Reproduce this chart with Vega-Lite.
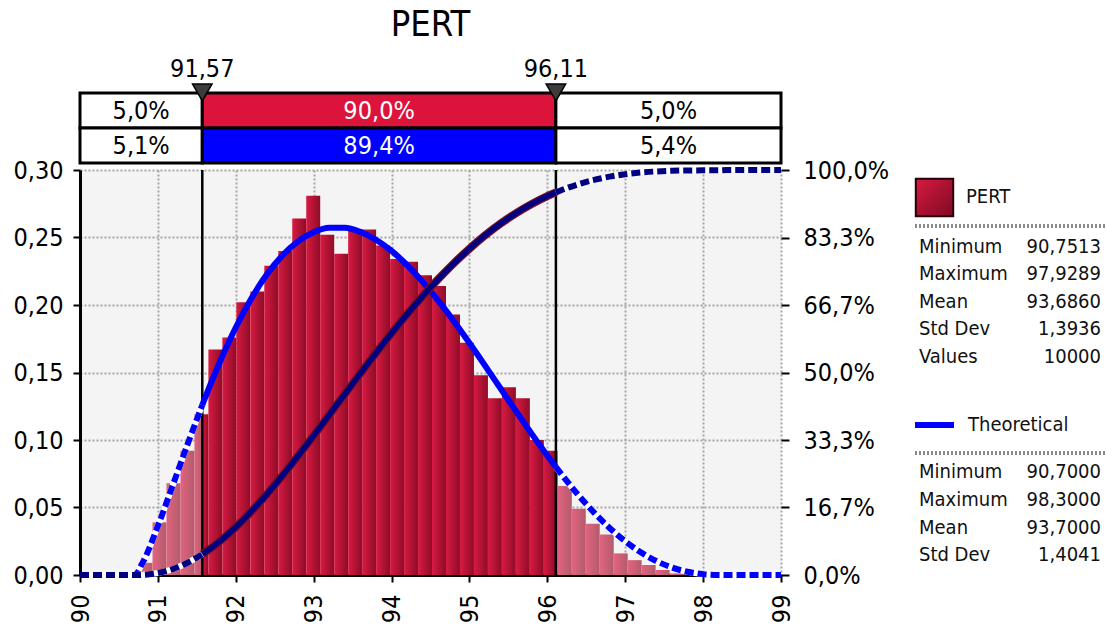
{
  "$schema": "https://vega.github.io/schema/vega-lite/v6.json",
  "background": "white",
  "padding": {"left": 12, "top": 6, "right": 2, "bottom": 2},
  "bounds": "flush",
  "spacing": 7,
  "datasets": {
    "bars": [
      {"x0": 90.7513, "x1": 90.9307, "d": 0.009, "z": "out"},
      {"x0": 90.9307, "x1": 91.1102, "d": 0.039, "z": "out"},
      {"x0": 91.1102, "x1": 91.2896, "d": 0.068, "z": "out"},
      {"x0": 91.2896, "x1": 91.4691, "d": 0.092, "z": "out"},
      {"x0": 91.4691, "x1": 91.57, "d": 0.119, "z": "out"},
      {"x0": 91.57, "x1": 91.6485, "d": 0.119, "z": "in"},
      {"x0": 91.6485, "x1": 91.8279, "d": 0.167, "z": "in"},
      {"x0": 91.8279, "x1": 92.0074, "d": 0.176, "z": "in"},
      {"x0": 92.0074, "x1": 92.1868, "d": 0.202, "z": "in"},
      {"x0": 92.1868, "x1": 92.3663, "d": 0.21, "z": "in"},
      {"x0": 92.3663, "x1": 92.5457, "d": 0.229, "z": "in"},
      {"x0": 92.5457, "x1": 92.7251, "d": 0.24, "z": "in"},
      {"x0": 92.7251, "x1": 92.9046, "d": 0.264, "z": "in"},
      {"x0": 92.9046, "x1": 93.084, "d": 0.281, "z": "in"},
      {"x0": 93.084, "x1": 93.2635, "d": 0.252, "z": "in"},
      {"x0": 93.2635, "x1": 93.4429, "d": 0.238, "z": "in"},
      {"x0": 93.4429, "x1": 93.6223, "d": 0.255, "z": "in"},
      {"x0": 93.6223, "x1": 93.8018, "d": 0.256, "z": "in"},
      {"x0": 93.8018, "x1": 93.9812, "d": 0.244, "z": "in"},
      {"x0": 93.9812, "x1": 94.1607, "d": 0.234, "z": "in"},
      {"x0": 94.1607, "x1": 94.3401, "d": 0.232, "z": "in"},
      {"x0": 94.3401, "x1": 94.5195, "d": 0.222, "z": "in"},
      {"x0": 94.5195, "x1": 94.699, "d": 0.214, "z": "in"},
      {"x0": 94.699, "x1": 94.8784, "d": 0.193, "z": "in"},
      {"x0": 94.8784, "x1": 95.0579, "d": 0.172, "z": "in"},
      {"x0": 95.0579, "x1": 95.2373, "d": 0.148, "z": "in"},
      {"x0": 95.2373, "x1": 95.4167, "d": 0.131, "z": "in"},
      {"x0": 95.4167, "x1": 95.5962, "d": 0.139, "z": "in"},
      {"x0": 95.5962, "x1": 95.7756, "d": 0.131, "z": "in"},
      {"x0": 95.7756, "x1": 95.9551, "d": 0.1, "z": "in"},
      {"x0": 95.9551, "x1": 96.11, "d": 0.092, "z": "in"},
      {"x0": 96.11, "x1": 96.1345, "d": 0.092, "z": "out"},
      {"x0": 96.1345, "x1": 96.3139, "d": 0.066, "z": "out"},
      {"x0": 96.3139, "x1": 96.4934, "d": 0.049, "z": "out"},
      {"x0": 96.4934, "x1": 96.6728, "d": 0.038, "z": "out"},
      {"x0": 96.6728, "x1": 96.8523, "d": 0.03, "z": "out"},
      {"x0": 96.8523, "x1": 97.0317, "d": 0.016, "z": "out"},
      {"x0": 97.0317, "x1": 97.2111, "d": 0.011, "z": "out"},
      {"x0": 97.2111, "x1": 97.3906, "d": 0.0074, "z": "out"},
      {"x0": 97.3906, "x1": 97.57, "d": 0.0037, "z": "out"},
      {"x0": 97.57, "x1": 97.7495, "d": 0.0012, "z": "out"},
      {"x0": 97.7495, "x1": 97.9289, "d": 0.0005, "z": "out"}
    ],
    "curve": [
      {"seg": "L", "x": 90, "pdf": 0, "cdf": 0},
      {"seg": "L", "x": 90.7, "pdf": 0, "cdf": 0},
      {"seg": "L", "x": 90.8, "pdf": 0.00867, "cdf": 0.00037},
      {"seg": "L", "x": 91.0, "pdf": 0.03632, "cdf": 0.00487},
      {"seg": "L", "x": 91.2, "pdf": 0.06791, "cdf": 0.01529},
      {"seg": "L", "x": 91.4, "pdf": 0.09987, "cdf": 0.03207},
      {"seg": "L", "x": 91.57, "pdf": 0.12593, "cdf": 0.05125},
      {"seg": "M", "x": 91.57, "pdf": 0.12593, "cdf": 0.05125},
      {"seg": "M", "x": 91.6, "pdf": 0.13036, "cdf": 0.05509},
      {"seg": "M", "x": 91.8, "pdf": 0.15838, "cdf": 0.08396},
      {"seg": "M", "x": 92.0, "pdf": 0.18335, "cdf": 0.11813},
      {"seg": "M", "x": 92.2, "pdf": 0.20484, "cdf": 0.15695},
      {"seg": "M", "x": 92.4, "pdf": 0.2227, "cdf": 0.1997},
      {"seg": "M", "x": 92.6, "pdf": 0.23678, "cdf": 0.24565},
      {"seg": "M", "x": 92.8, "pdf": 0.24718, "cdf": 0.29405},
      {"seg": "M", "x": 93.0, "pdf": 0.25394, "cdf": 0.34416},
      {"seg": "M", "x": 93.2, "pdf": 0.25723, "cdf": 0.39528},
      {"seg": "M", "x": 93.4, "pdf": 0.25725, "cdf": 0.44673},
      {"seg": "M", "x": 93.6, "pdf": 0.25419, "cdf": 0.49787},
      {"seg": "M", "x": 93.8, "pdf": 0.24837, "cdf": 0.54813},
      {"seg": "M", "x": 94.0, "pdf": 0.24005, "cdf": 0.59697},
      {"seg": "M", "x": 94.2, "pdf": 0.22952, "cdf": 0.64393},
      {"seg": "M", "x": 94.4, "pdf": 0.21712, "cdf": 0.68859},
      {"seg": "M", "x": 94.6, "pdf": 0.20316, "cdf": 0.73062},
      {"seg": "M", "x": 94.8, "pdf": 0.18794, "cdf": 0.76973},
      {"seg": "M", "x": 95.0, "pdf": 0.17182, "cdf": 0.80571},
      {"seg": "M", "x": 95.2, "pdf": 0.1551, "cdf": 0.8384},
      {"seg": "M", "x": 95.4, "pdf": 0.13812, "cdf": 0.86772},
      {"seg": "M", "x": 95.6, "pdf": 0.12117, "cdf": 0.89365},
      {"seg": "M", "x": 95.8, "pdf": 0.10453, "cdf": 0.91622},
      {"seg": "M", "x": 96.0, "pdf": 0.08847, "cdf": 0.93552},
      {"seg": "M", "x": 96.11, "pdf": 0.07998, "cdf": 0.94478},
      {"seg": "R", "x": 96.11, "pdf": 0.07998, "cdf": 0.94478},
      {"seg": "R", "x": 96.2, "pdf": 0.07327, "cdf": 0.95169},
      {"seg": "R", "x": 96.4, "pdf": 0.05913, "cdf": 0.96493},
      {"seg": "R", "x": 96.6, "pdf": 0.04625, "cdf": 0.97547},
      {"seg": "R", "x": 96.8, "pdf": 0.03483, "cdf": 0.98358},
      {"seg": "R", "x": 97.0, "pdf": 0.02498, "cdf": 0.98956},
      {"seg": "R", "x": 97.2, "pdf": 0.0168, "cdf": 0.99374},
      {"seg": "R", "x": 97.4, "pdf": 0.01033, "cdf": 0.99645},
      {"seg": "R", "x": 97.6, "pdf": 0.00555, "cdf": 0.99804},
      {"seg": "R", "x": 97.8, "pdf": 0.00238, "cdf": 0.99883},
      {"seg": "R", "x": 98.0, "pdf": 0.00064, "cdf": 0.99913},
      {"seg": "R", "x": 98.2, "pdf": 0.00004, "cdf": 0.9992},
      {"seg": "R", "x": 98.3, "pdf": 0, "cdf": 1},
      {"seg": "R", "x": 99, "pdf": 0, "cdf": 1}
    ],
    "bands": [
      {"row": "sim", "kind": "side", "x0": 90, "x1": 91.57, "xc": 90.785, "label": "5,0%"},
      {"row": "sim", "kind": "sim", "x0": 91.57, "x1": 96.11, "xc": 93.84, "label": "90,0%"},
      {"row": "sim", "kind": "side", "x0": 96.11, "x1": 99, "xc": 97.555, "label": "5,0%"},
      {"row": "theo", "kind": "side", "x0": 90, "x1": 91.57, "xc": 90.785, "label": "5,1%"},
      {"row": "theo", "kind": "theo", "x0": 91.57, "x1": 96.11, "xc": 93.84, "label": "89,4%"},
      {"row": "theo", "kind": "side", "x0": 96.11, "x1": 99, "xc": 97.555, "label": "5,4%"}
    ],
    "delims": [
      {"row": "lab", "xc": 91.57, "label": "91,57"},
      {"row": "lab", "xc": 96.11, "label": "96,11"}
    ],
    "stats": [
      {"kind": "head", "lab": "PERT", "r": -1.8},
      {"kind": "head", "lab": "Theoretical", "r": 6.47},
      {"kind": "sep", "r": -0.76},
      {"kind": "sep", "r": 7.49},
      {"kind": "stat", "lab": "Minimum", "val": "90,7513", "r": 0},
      {"kind": "stat", "lab": "Maximum", "val": "97,9289", "r": 1},
      {"kind": "stat", "lab": "Mean", "val": "93,6860", "r": 2},
      {"kind": "stat", "lab": "Std Dev", "val": "1,3936", "r": 3},
      {"kind": "stat", "lab": "Values", "val": "10000", "r": 4},
      {"kind": "stat", "lab": "Minimum", "val": "90,7000", "r": 8.18},
      {"kind": "stat", "lab": "Maximum", "val": "98,3000", "r": 9.2},
      {"kind": "stat", "lab": "Mean", "val": "93,7000", "r": 10.22},
      {"kind": "stat", "lab": "Std Dev", "val": "1,4041", "r": 11.2}
    ]
  },
  "vconcat": [
    {
      "width": 701,
      "height": 105,
      "title": {"text": "PERT", "fontSize": 36, "fontWeight": "normal", "font": "DejaVu Sans Condensed", "anchor": "middle", "frame": "group", "offset": 13, "color": "black"},
      "layer": [
        {
          "data": {"name": "bands"},
          "mark": {"type": "rect", "stroke": "black", "strokeWidth": 3},
          "encoding": {
            "x": {"field": "x0", "type": "quantitative", "scale": {"domain": [90, 99], "nice": false, "zero": false}, "axis": null},
            "x2": {"field": "x1"},
            "y": {"field": "row", "type": "nominal", "scale": {"domain": ["lab", "sim", "theo"], "paddingInner": 0, "paddingOuter": 0}, "axis": null},
            "color": {"field": "kind", "type": "nominal", "scale": {"domain": ["side", "sim", "theo"], "range": ["#ffffff", "#dc143c", "#0000ff"]}, "legend": null}
          }
        },
        {
          "data": {"name": "bands"},
          "mark": {"type": "text", "fontSize": 25, "font": "DejaVu Sans Condensed", "baseline": "middle", "align": "center"},
          "encoding": {
            "x": {"field": "xc", "type": "quantitative"},
            "y": {"field": "row", "type": "nominal"},
            "text": {"field": "label"},
            "color": {"condition": {"test": "datum.kind != 'side'", "value": "#ffffff"}, "value": "#000000"}
          }
        },
        {
          "data": {"name": "delims"},
          "mark": {"type": "text", "fontSize": 25, "font": "DejaVu Sans Condensed", "baseline": "middle", "align": "center", "dy": -7, "color": "black"},
          "encoding": {
            "x": {"field": "xc", "type": "quantitative"},
            "y": {"field": "row", "type": "nominal"},
            "text": {"field": "label"}
          }
        },
        {
          "data": {"name": "delims"},
          "mark": {"type": "point", "shape": "triangle-down", "size": 380, "filled": true, "fill": "#3c3c3c", "stroke": "black", "strokeWidth": 1.5, "opacity": 1, "yOffset": 17},
          "encoding": {
            "x": {"field": "xc", "type": "quantitative"},
            "y": {"field": "row", "type": "nominal"}
          }
        }
      ]
    },
    {
      "bounds": "flush",
      "spacing": 134,
      "hconcat": [
        {
          "width": 701,
          "height": 405,
          "view": {"fill": "#f4f4f4"},
          "layer": [
            {
              "encoding": {
                "y": {"type": "quantitative", "scale": {"domain": [0, 0.3], "nice": false},
                  "axis": {"orient": "left", "values": [0, 0.05, 0.1, 0.15, 0.2, 0.25, 0.3], "labelExpr": "replace(format(datum.value, '.2f'), '.', ',')", "grid": true, "tickSize": 7, "tickWidth": 2, "labelPadding": 10, "domainWidth": 3, "labelFlush": false, "labelOverlap": false, "title": null}}
              },
              "layer": [
                {
                  "data": {"name": "bars"},
                  "transform": [{"filter": "datum.z == 'in'"}],
                  "mark": {"type": "rect", "fill": {"gradient": "linear", "x1": 0, "y1": 0, "x2": 1, "y2": 0, "stops": [{"offset": 0, "color": "#d81a42"}, {"offset": 1, "color": "#8e0c27"}]}},
                  "encoding": {
                    "x": {"field": "x0", "type": "quantitative", "scale": {"domain": [90, 99], "nice": false, "zero": false},
                      "axis": {"values": [90, 91, 92, 93, 94, 95, 96, 97, 98, 99], "format": "d", "labelAngle": -90, "grid": true, "tickSize": 7, "tickWidth": 2, "labelPadding": 12, "domainWidth": 3, "labelFlush": false, "labelOverlap": false, "title": null}},
                    "x2": {"field": "x1"},
                    "y": {"field": "d"},
                    "y2": {"datum": 0}
                  }
                },
                {
                  "data": {"name": "bars"},
                  "transform": [{"filter": "datum.z == 'out'"}],
                  "mark": {"type": "rect", "fill": {"gradient": "linear", "x1": 0, "y1": 0, "x2": 1, "y2": 0, "stops": [{"offset": 0, "color": "#e2647f"}, {"offset": 1, "color": "#b25b6d"}]}},
                  "encoding": {
                    "x": {"field": "x0", "type": "quantitative",
                      "axis": {"values": [90, 91, 92, 93, 94, 95, 96, 97, 98, 99], "format": "d", "labelAngle": -90, "grid": true, "tickSize": 7, "tickWidth": 2, "labelPadding": 12, "domainWidth": 3, "labelFlush": false, "labelOverlap": false, "title": null}},
                    "x2": {"field": "x1"},
                    "y": {"field": "d"},
                    "y2": {"datum": 0}
                  }
                },
                {
                  "data": {"name": "delims"},
                  "mark": {"type": "rule", "color": "black", "strokeWidth": 2.5},
                  "encoding": {"x": {"field": "xc", "type": "quantitative",
                    "axis": {"values": [90, 91, 92, 93, 94, 95, 96, 97, 98, 99], "format": "d", "labelAngle": -90, "grid": true, "tickSize": 7, "tickWidth": 2, "labelPadding": 12, "domainWidth": 3, "labelFlush": false, "labelOverlap": false, "title": null}}}
                },
                {
                  "data": {"name": "curve"},
                  "encoding": {
                    "x": {"field": "x", "type": "quantitative",
                      "axis": {"values": [90, 91, 92, 93, 94, 95, 96, 97, 98, 99], "format": "d", "labelAngle": -90, "grid": true, "tickSize": 7, "tickWidth": 2, "labelPadding": 12, "domainWidth": 3, "labelFlush": false, "labelOverlap": false, "title": null}},
                    "y": {"field": "pdf"}
                  },
                  "layer": [
                    {
                      "transform": [{"filter": "datum.seg != 'M'"}],
                      "mark": {"type": "line", "color": "#ffffff", "strokeWidth": 6, "interpolate": "monotone"},
                      "encoding": {"detail": {"field": "seg"}}
                    },
                    {
                      "transform": [{"filter": "datum.seg != 'M'"}],
                      "mark": {"type": "line", "color": "#0000ff", "strokeWidth": 6, "strokeDash": [9, 4], "interpolate": "monotone"},
                      "encoding": {"detail": {"field": "seg"}}
                    },
                    {
                      "transform": [{"filter": "datum.seg == 'M'"}],
                      "mark": {"type": "line", "color": "#0000ff", "strokeWidth": 6, "interpolate": "monotone"}
                    }
                  ]
                }
              ]
            },
            {
              "data": {"name": "curve"},
              "encoding": {
                "x": {"field": "x", "type": "quantitative",
                  "axis": {"values": [90, 91, 92, 93, 94, 95, 96, 97, 98, 99], "format": "d", "labelAngle": -90, "grid": true, "tickSize": 7, "tickWidth": 2, "labelPadding": 12, "domainWidth": 3, "labelFlush": false, "labelOverlap": false, "title": null}},
                "y": {"field": "cdf", "type": "quantitative", "scale": {"domain": [0, 1], "nice": false},
                  "axis": {"orient": "right", "values": [0, 0.1666667, 0.3333333, 0.5, 0.6666667, 0.8333333, 1], "labelExpr": "replace(format(datum.value * 100, '.1f'), '.', ',') + '%'", "grid": false, "domain": false, "tickSize": 8, "tickWidth": 2, "labelPadding": 14, "labelFlush": false, "labelOverlap": false, "title": null}}
              },
              "layer": [
                {
                  "transform": [{"filter": "datum.seg == 'M'"}],
                  "mark": {"type": "line", "color": "#7b0f1f", "strokeWidth": 8, "interpolate": "monotone"}
                },
                {
                  "transform": [{"filter": "datum.seg == 'M'"}],
                  "mark": {"type": "line", "color": "#000080", "strokeWidth": 5.5, "interpolate": "monotone"}
                },
                {
                  "transform": [{"filter": "datum.seg != 'M'"}],
                  "mark": {"type": "line", "color": "#ffffff", "strokeWidth": 6, "interpolate": "monotone"},
                  "encoding": {"detail": {"field": "seg"}}
                },
                {
                  "transform": [{"filter": "datum.seg != 'M'"}],
                  "mark": {"type": "line", "color": "#000080", "strokeWidth": 6, "strokeDash": [9, 4], "interpolate": "monotone"},
                  "encoding": {"detail": {"field": "seg"}}
                }
              ]
            }
          ],
          "resolve": {"scale": {"y": "independent"}, "axis": {"y": "independent"}}
        },
        {
          "width": 190,
          "height": 405,
          "data": {"name": "stats"},
          "encoding": {
            "y": {"field": "r", "type": "quantitative", "scale": {"domain": [-2.8, 11.93], "reverse": true, "nice": false, "zero": false}, "axis": null}
          },
          "layer": [
            {
              "transform": [{"filter": "datum.kind == 'sep'"}],
              "mark": {"type": "rule", "color": "#8a8a8a", "strokeWidth": 4, "strokeDash": [2, 2]},
              "encoding": {"x": {"datum": 0, "type": "quantitative", "scale": {"domain": [0, 190], "nice": false, "zero": false}, "axis": null}, "x2": {"datum": 190}}
            },
            {
              "transform": [{"filter": "datum.lab == 'PERT'"}],
              "mark": {"type": "point", "shape": "square", "size": 1400, "filled": true, "opacity": 1, "stroke": "#2a0008", "strokeWidth": 2,
                "fill": {"gradient": "linear", "x1": 0, "y1": 0, "x2": 1, "y2": 1, "stops": [{"offset": 0, "color": "#d81a42"}, {"offset": 1, "color": "#7e0a22"}]}},
              "encoding": {"x": {"datum": 19.5, "type": "quantitative"}}
            },
            {
              "transform": [{"filter": "datum.lab == 'Theoretical'"}],
              "mark": {"type": "rule", "color": "#0000ff", "strokeWidth": 6},
              "encoding": {"x": {"datum": 0, "type": "quantitative"}, "x2": {"datum": 39}}
            },
            {
              "transform": [{"filter": "datum.lab == 'PERT'"}],
              "mark": {"type": "text", "align": "left", "baseline": "middle", "fontSize": 20, "font": "DejaVu Sans Condensed", "color": "#111111"},
              "encoding": {"x": {"datum": 51, "type": "quantitative"}, "text": {"field": "lab"}}
            },
            {
              "transform": [{"filter": "datum.lab == 'Theoretical'"}],
              "mark": {"type": "text", "align": "left", "baseline": "middle", "fontSize": 20, "font": "DejaVu Sans Condensed", "color": "#111111"},
              "encoding": {"x": {"datum": 53, "type": "quantitative"}, "text": {"field": "lab"}}
            },
            {
              "transform": [{"filter": "datum.kind == 'stat'"}],
              "mark": {"type": "text", "align": "left", "baseline": "middle", "fontSize": 20, "font": "DejaVu Sans Condensed", "color": "#111111"},
              "encoding": {"x": {"datum": 4, "type": "quantitative"}, "text": {"field": "lab"}}
            },
            {
              "transform": [{"filter": "datum.kind == 'stat'"}],
              "mark": {"type": "text", "align": "right", "baseline": "middle", "fontSize": 20, "font": "DejaVu Sans Condensed", "color": "#111111"},
              "encoding": {"x": {"datum": 186, "type": "quantitative"}, "text": {"field": "val"}}
            }
          ]
        }
      ]
    }
  ],
  "config": {
    "font": "DejaVu Sans Condensed",
    "view": {"stroke": null},
    "axis": {
      "labelFont": "DejaVu Sans Condensed",
      "labelFontSize": 25,
      "labelColor": "#000000",
      "tickColor": "#000000",
      "domainColor": "#000000",
      "gridColor": "#a6a6a6",
      "gridDash": [2, 2],
      "gridWidth": 2
    }
  }
}
